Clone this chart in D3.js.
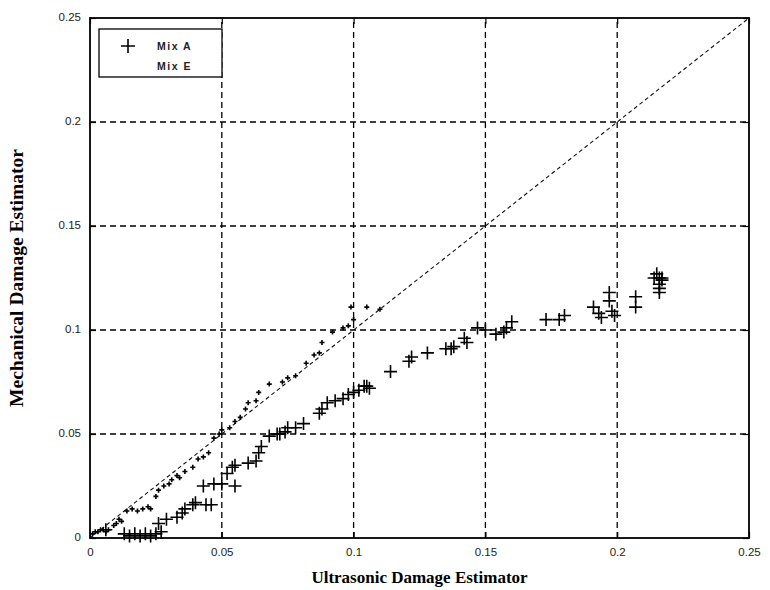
<!DOCTYPE html>
<html><head><meta charset="utf-8">
<script src="https://cdn.jsdelivr.net/npm/d3@7"></script>
<style>
body{margin:0;background:#fff;}
svg{display:block;}
</style></head>
<body>
<script>
// ---- data ----
const xTicks = [0, 0.05, 0.1, 0.15, 0.2, 0.25];
const yTicks = [0, 0.05, 0.1, 0.15, 0.2, 0.25];
const xTickLabels = ["0", "0.05", "0.1", "0.15", "0.2", "0.25"];
const yTickLabels = ["0", "0.05", "0.1", "0.15", "0.2", "0.25"];
const seriesNames = ["Mix A", "Mix E"];
const mixA_x = [0.006,0.013,0.015,0.017,0.019,0.021,0.023,0.025,0.027,0.026,0.029,0.033,0.035,0.036,0.039,0.040,0.044,0.046,
  0.043,0.047,0.050,0.055,0.052,0.054,0.055,0.060,0.063,0.064,0.065,0.068,0.071,0.072,0.074,0.075,0.078,0.081,
  0.087,0.088,0.090,0.093,0.096,0.098,0.100,0.102,0.104,0.105,0.106,0.114,0.121,0.122,0.128,0.135,0.137,0.138,
  0.142,0.143,0.147,0.150,0.154,0.157,0.158,0.160,0.173,0.178,0.180,0.191,0.193,0.194,0.197,0.197,0.198,0.199,
  0.207,0.207,0.214,0.215,0.216,0.217,0.216,0.216,0.216,0.217];
const mixA_y = [0.004,0.002,0.001,0.002,0.001,0.002,0.001,0.002,0.003,0.007,0.009,0.010,0.012,0.014,0.016,0.017,0.016,0.016,
  0.025,0.026,0.026,0.025,0.031,0.034,0.035,0.036,0.037,0.041,0.044,0.049,0.050,0.050,0.051,0.053,0.053,0.055,
  0.060,0.062,0.065,0.066,0.067,0.069,0.070,0.071,0.073,0.073,0.072,0.080,0.085,0.087,0.089,0.091,0.091,0.092,
  0.096,0.094,0.101,0.100,0.098,0.099,0.101,0.104,0.105,0.105,0.107,0.111,0.108,0.106,0.118,0.114,0.109,0.107,
  0.116,0.111,0.125,0.127,0.125,0.124,0.122,0.120,0.118,0.125];
const mixE_x = [0.001,0.002,0.003,0.004,0.005,0.006,0.007,0.009,0.010,0.011,0.012,0.014,0.016,0.018,0.020,0.022,0.023,
  0.025,0.026,0.028,0.030,0.031,0.033,0.034,0.036,0.039,0.041,0.043,0.045,0.047,0.049,0.050,0.053,0.055,0.057,
  0.059,0.060,0.063,0.064,0.068,0.073,0.075,0.078,0.082,0.085,0.087,0.088,0.092,0.096,0.098,0.100,0.099,0.105,0.110];
const mixE_y = [0.002,0.003,0.003,0.004,0.004,0.003,0.004,0.006,0.007,0.009,0.008,0.013,0.014,0.013,0.014,0.015,0.014,
  0.020,0.023,0.025,0.026,0.028,0.030,0.029,0.032,0.034,0.038,0.039,0.041,0.048,0.050,0.052,0.053,0.056,0.058,
  0.062,0.065,0.066,0.070,0.074,0.075,0.077,0.078,0.084,0.088,0.089,0.094,0.099,0.101,0.102,0.105,0.111,0.111,0.110];
const refLineX = [0, 0.25];
const refLineY = [0, 0.25];

// ---- layout ----
const W = 770, H = 590;
const m = {left: 90, top: 18, right: 21, bottom: 52};
const pw = W - m.left - m.right, ph = H - m.top - m.bottom;

const svg = d3.select("body").append("svg").attr("width", W).attr("height", H);
const x = d3.scaleLinear().domain([0, 0.25]).range([m.left, m.left + pw]);
const y = d3.scaleLinear().domain([0, 0.25]).range([m.top + ph, m.top]);

// grid
const g = svg.append("g");
g.selectAll(".vg").data(xTicks.slice(1, -1)).join("line")
  .attr("x1", d => x(d)).attr("x2", d => x(d)).attr("y1", y(0)).attr("y2", y(0.25))
  .attr("stroke", "#000").attr("stroke-width", 1.3).attr("stroke-dasharray", "6,4");
g.selectAll(".hg").data(yTicks.slice(1, -1)).join("line")
  .attr("y1", d => y(d)).attr("y2", d => y(d)).attr("x1", x(0)).attr("x2", x(0.25))
  .attr("stroke", "#000").attr("stroke-width", 1.3).attr("stroke-dasharray", "6,4");

// reference line y = x
svg.append("path")
  .attr("d", d3.line().x((d,i) => x(refLineX[i])).y((d,i) => y(refLineY[i]))(refLineX))
  .attr("fill", "none").attr("stroke", "#111").attr("stroke-width", 1.1).attr("stroke-dasharray", "4,3");

// axes (MATLAB style inward ticks on all four sides)
const fontTick = "'Liberation Sans', Arial, sans-serif";
const xb = d3.axisBottom(x).tickValues(xTicks).tickFormat((d,i) => xTickLabels[i]).tickSizeInner(-6).tickSizeOuter(0).tickPadding(10);
const yl = d3.axisLeft(y).tickValues(yTicks).tickFormat((d,i) => yTickLabels[i]).tickSizeInner(-6).tickSizeOuter(0).tickPadding(9);
const xt = d3.axisTop(x).tickValues(xTicks).tickFormat("").tickSizeInner(-6).tickSizeOuter(0);
const yr = d3.axisRight(y).tickValues(yTicks).tickFormat("").tickSizeInner(-6).tickSizeOuter(0);
function style(sel){
  sel.select(".domain").remove();
  sel.selectAll("line").attr("stroke", "#000").attr("stroke-width", 1.2);
  sel.selectAll("text").attr("font-family", fontTick).attr("font-size", 11.5).attr("fill", "#222");
}
svg.append("g").attr("transform", `translate(0,${y(0)})`).call(xb).call(style);
svg.append("g").attr("transform", `translate(${x(0)},0)`).call(yl).call(style)
  .selectAll("text").attr("dy", "0.25em");
svg.append("g").attr("transform", `translate(0,${y(0.25)})`).call(xt).call(style);
svg.append("g").attr("transform", `translate(${x(0.25)},0)`).call(yr).call(style);

// frame
svg.append("rect").attr("x", x(0)).attr("y", y(0.25)).attr("width", x(0.25) - x(0)).attr("height", y(0) - y(0.25))
  .attr("fill", "none").attr("stroke", "#000").attr("stroke-width", 1.8);

// markers
function plus(sel, xs, ys, r, sw) {
  const pts = xs.map((v, i) => [v, ys[i]]);
  sel.selectAll("path").data(pts).join("path")
    .attr("d", d => {
      const cx = x(d[0]), cy = y(d[1]);
      return `M${cx - r},${cy}H${cx + r}M${cx},${cy - r}V${cy + r}`;
    })
    .attr("stroke", "#000").attr("stroke-width", sw).attr("fill", "none");
}
plus(svg.append("g"), mixE_x, mixE_y, 2.5, 1.6);
plus(svg.append("g"), mixA_x, mixA_y, 6.5, 1.6);

// legend
const lg = svg.append("g");
lg.append("rect").attr("x", 99).attr("y", 29).attr("width", 123).attr("height", 48)
  .attr("fill", "#fff").attr("stroke", "#000").attr("stroke-width", 1.3);
lg.append("path").attr("d", "M121,46H135M128,39V53").attr("stroke", "#000").attr("stroke-width", 1.6);
lg.selectAll("text").data(seriesNames).join("text")
  .attr("x", 157).attr("y", (d, i) => 50 + i * 20)
  .attr("font-family", fontTick).attr("font-size", 10.5).attr("font-weight", "bold")
  .attr("letter-spacing", "1.5px").attr("fill", "#222").text(d => d);

// axis titles
const fontTitle = "'Liberation Serif', 'Times New Roman', serif";
svg.append("text").attr("x", x(0.125)).attr("y", 583).attr("text-anchor", "middle")
  .attr("font-family", fontTitle).attr("font-weight", "bold").attr("font-size", 17)
  .text("Ultrasonic Damage Estimator");
svg.append("text").attr("transform", `translate(23,${y(0.125)}) rotate(-90)`).attr("text-anchor", "middle")
  .attr("font-family", fontTitle).attr("font-weight", "bold").attr("font-size", 19.5)
  .text("Mechanical Damage Estimator");
</script>
</body></html>
